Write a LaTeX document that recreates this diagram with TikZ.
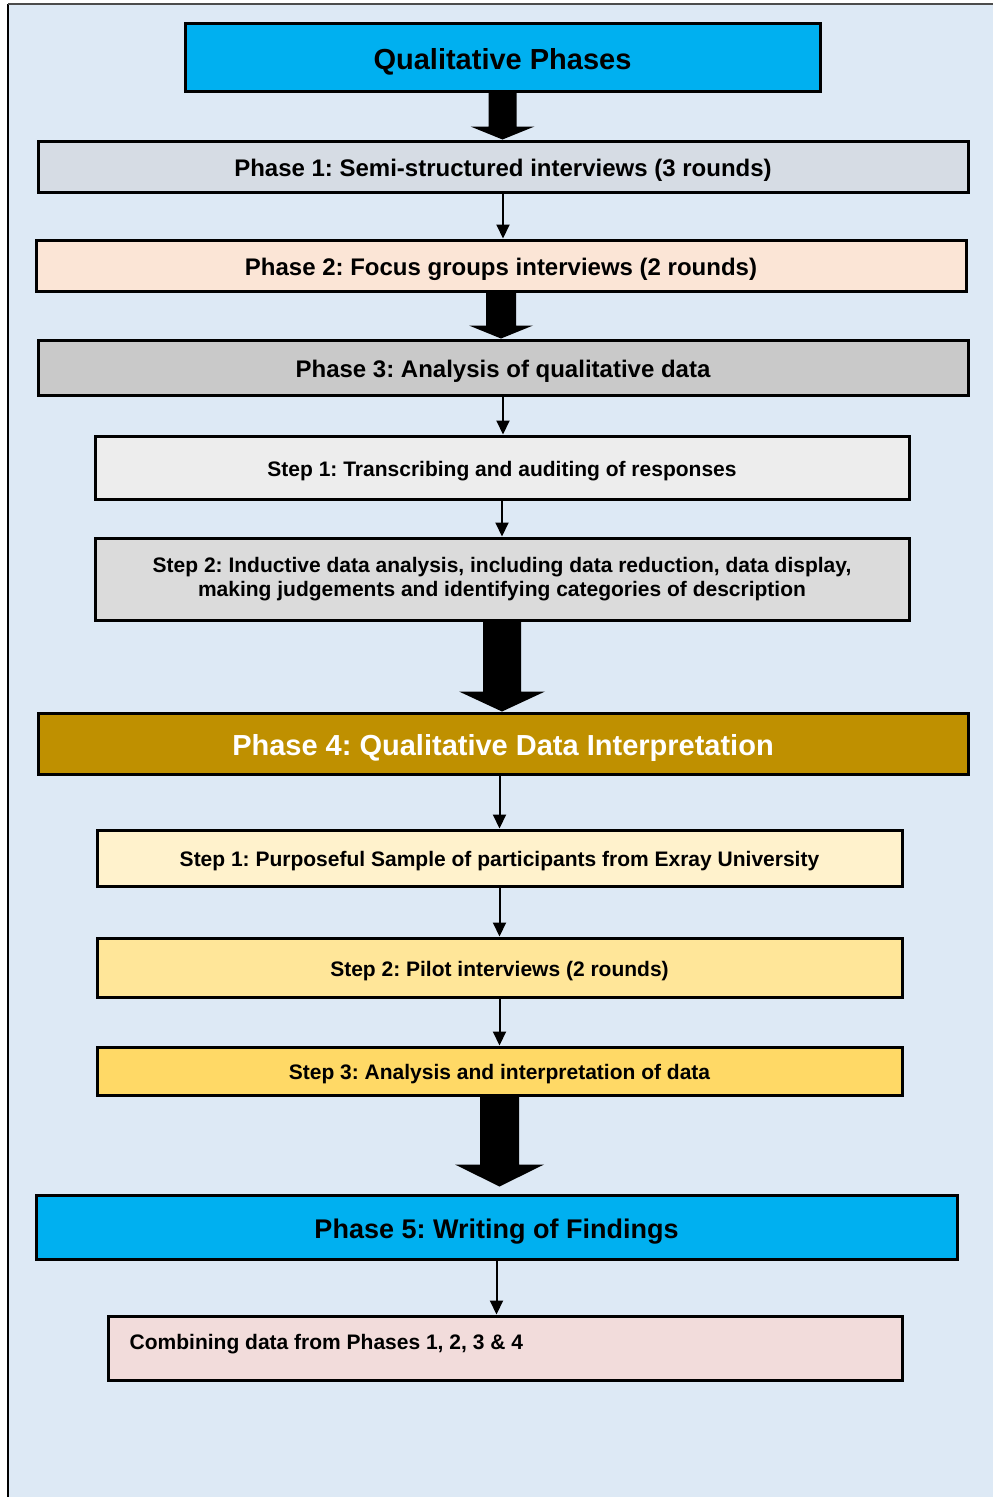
\documentclass[tikz,border=0pt]{standalone}
\usepackage{fontspec}
\setmainfont{Liberation Sans}
\usetikzlibrary{calc,arrows.meta}
\definecolor{bgblue}{HTML}{DDE9F5}
\definecolor{cyanbox}{HTML}{00B0F0}
\definecolor{phaseone}{HTML}{D6DCE4}
\definecolor{phasetwo}{HTML}{FBE5D6}
\definecolor{phasethree}{HTML}{C9C9C9}
\definecolor{stepone}{HTML}{EDEDED}
\definecolor{steptwo}{HTML}{DBDBDB}
\definecolor{phasefour}{HTML}{BF9000}
\definecolor{ysa}{HTML}{FFF2CC}
\definecolor{ysb}{HTML}{FFE699}
\definecolor{ysc}{HTML}{FFD966}
\definecolor{pinkbox}{HTML}{F2DCDB}
\frenchspacing
\newcommand\bigarrow[6]{%
  \coordinate (tipc) at ($(#1.south |- #2.north)+(0,-#6)$);
  \fill[black] ($(#1.south)+(-#3,0)$) -- ($(tipc)+(-#3,-#5)$) -- ($(tipc)+(-#4,-#5)$) -- (tipc)
    -- ($(tipc)+(#4,-#5)$) -- ($(tipc)+(#3,-#5)$) -- ($(#1.south)+(#3,0)$) -- cycle;}
\begin{document}
\begin{tikzpicture}[x=1pt,y=-1pt,
  box/.style={draw=black,line width=3pt,rectangle,inner sep=0pt,align=center,font=\bfseries},
  bigtxt/.style={font=\fontsize{29}{34}\selectfont\bfseries,text height=24.5pt,text depth=0pt},
  fivetxt/.style={font=\fontsize{27}{32}\selectfont\bfseries,text height=23pt,text depth=0pt},
  midtxt/.style={font=\fontsize{24}{28}\selectfont\bfseries,text height=20.5pt,text depth=0pt},
  smalltxt/.style={font=\fontsize{21}{24}\selectfont\bfseries,text height=17.5pt,text depth=0pt},
  twoline/.style={font=\fontsize{21}{24}\selectfont\bfseries},
  thinarrow/.style={line width=2pt,-{Triangle[length=14pt,width=13pt]}}]
\useasboundingbox (0,0) rectangle (993,1497);
\fill[bgblue] (8,4) rectangle (1000,1505);
\draw[line width=2pt,black] (8,4) -- (8,1505);
\draw[line width=1.5pt,black!70] (8,4) -- (1000,4);
% boxes
\node[box,fill=cyanbox,minimum width=635,minimum height=68,bigtxt] (q) at (502.5,57) {Qualitative Phases};
\node[box,fill=phaseone,minimum width=930,minimum height=51,midtxt] (p1) at (503,166.5) {Phase 1: Semi-structured interviews (3 rounds)};
\node[box,fill=phasetwo,minimum width=930,minimum height=51,midtxt] (p2) at (501,265.5) {Phase 2: Focus groups interviews (2 rounds)};
\node[box,fill=phasethree,minimum width=930,minimum height=55,midtxt] (p3) at (503,367.5) {Phase 3: Analysis of qualitative data};
\node[box,fill=stepone,minimum width=814,minimum height=63,smalltxt] (s1) at (502,467.5) {Step 1: Transcribing and auditing of responses};
\node[box,fill=steptwo,minimum width=814,minimum height=82,twoline] (s2) at (502,579) {Step 2: Inductive data analysis, including data reduction, data display,\\ making judgements and identifying categories of description};
\node[box,fill=phasefour,minimum width=930,minimum height=61,bigtxt,text=white] (p4) at (503,743.5) {Phase 4: Qualitative Data Interpretation};
\node[box,fill=ysa,minimum width=805,minimum height=56,smalltxt] (t1) at (499.5,858) {Step 1: Purposeful Sample of participants from Exray University};
\node[box,fill=ysb,minimum width=805,minimum height=59,smalltxt] (t2) at (499.5,967.5) {Step 2: Pilot interviews (2 rounds)};
\node[box,fill=ysc,minimum width=805,minimum height=48,smalltxt] (t3) at (499.5,1071) {Step 3: Analysis and interpretation of data};
\node[box,fill=cyanbox,minimum width=921,minimum height=64,fivetxt] (p5) at (496.5,1227) {Phase 5: Writing of Findings};
\node[box,fill=pinkbox,minimum width=794,minimum height=64] (c) at (505,1348) {};
\node[twoline,anchor=base west,inner sep=0pt] (ct) at ($(c.west)+(23,1)$) {Combining data from Phases 1, 2, 3 \& 4};
% block arrows
\bigarrow{q}{p1}{14}{32}{13}{0}
\bigarrow{p2}{p3}{15}{32}{13}{0}
\bigarrow{s2}{p4}{19}{43}{20}{0}
\bigarrow{t3}{p5}{19.5}{44.5}{22}{7}
% thin arrows
\draw[thinarrow] (p1.south) -- (p1.south |- p2.north);
\draw[thinarrow] (p3.south) -- (p3.south |- s1.north);
\draw[thinarrow] (s1.south) -- (s1.south |- s2.north);
\draw[thinarrow] (t1.north |- p4.south) -- (t1.north);
\draw[thinarrow] (t1.south) -- (t2.north);
\draw[thinarrow] (t2.south) -- (t3.north);
\draw[thinarrow] (p5.south) -- (p5.south |- c.north);
\end{tikzpicture}
\end{document}
